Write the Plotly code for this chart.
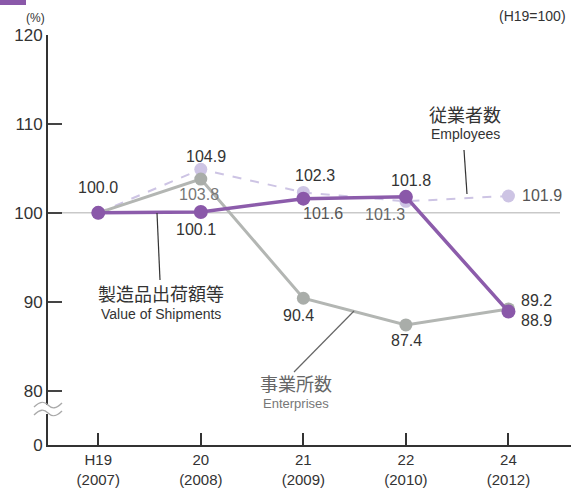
import plotly.graph_objects as go

W, H = 573, 490
L, R, T, B = 48, 2, 35, 45

categories = ["H19", "20", "21", "22", "24"]
years = ["2007", "2008", "2009", "2010", "2012"]

shipments = [100.0, 100.1, 101.6, 101.8, 88.9]
enterprises = [100.0, 103.8, 90.4, 87.4, 89.2]
employees = [100.0, 104.9, 102.3, 101.3, 101.9]

y_ticks = [0, 80, 90, 100, 110, 120]
BREAK_BASE = 73.9  # where "0" sits below the axis break

FONT = "Liberation Sans, Noto Sans CJK JP, sans-serif"
JP = "Noto Sans CJK JP, sans-serif"
PURPLE = "#8c5cab"
GRAY = "#b3b6b3"
LAVENDER = "#cdc4e4"


def px(x, y):
    """pixel position -> paper coords"""
    return (x - L) / (W - L - R), 1 - (y - T) / (H - T - B)


fig = go.Figure()

fig.add_trace(go.Scatter(
    x=categories, y=employees, mode="lines+markers",
    line=dict(color=LAVENDER, width=2, dash="dash"),
    marker=dict(color=LAVENDER, size=13),
))
fig.add_trace(go.Scatter(
    x=categories, y=enterprises, mode="lines+markers",
    line=dict(color=GRAY, width=3),
    marker=dict(color="#a9ada9", size=13),
))
fig.add_trace(go.Scatter(
    x=categories, y=shipments, mode="lines+markers",
    line=dict(color=PURPLE, width=3.5),
    marker=dict(color="#8a58a9", size=14),
))

# value labels: (series, index, dx, dy, anchor, colour)
labels = [
    (shipments, 0, 0, -25, "center", "#333"),
    (shipments, 1, -5, 18, "center", "#333"),
    (shipments, 2, 20, 15, "center", "#555"),
    (shipments, 3, 5, -16, "center", "#333"),
    (shipments, 4, 11, 9, "left", "#333"),
    (enterprises, 1, -2, 15, "center", "#777"),
    (enterprises, 2, -5, 17, "center", "#333"),
    (enterprises, 3, 1, 16, "center", "#333"),
    (enterprises, 4, 11, -8, "left", "#333"),
    (employees, 1, 5, -13, "center", "#333"),
    (employees, 2, 12, -17, "center", "#333"),
    (employees, 3, -21, 13, "center", "#666"),
    (employees, 4, 12, 0, "left", "#555"),
]
for series, i, dx, dy, anc, col in labels:
    # category index as x (names like "20" would be read as positions)
    fig.add_annotation(
        x=i, y=series[i], text=f"{series[i]:.1f}", showarrow=False,
        xanchor=anc, yanchor="middle", xshift=dx, yshift=-dy,
        font=dict(family=FONT, size=16, color=col),
    )

shapes = []
# 100 reference line
shapes.append(dict(type="line", xref="paper", yref="y", x0=0, x1=px(560, 0)[0],
                   y0=100, y1=100, line=dict(color="#c9c9c9", width=1.5), layer="below"))
# leader lines
for (x0, y0), (x1, y1), col in [
    ((464, 150), (467, 194), "#333"),
    ((157, 213), (160, 280), "#333"),
    ((354, 311), (294, 372), "#666"),
]:
    a, b = px(x0, y0), px(x1, y1)
    shapes.append(dict(type="line", xref="paper", yref="paper", x0=a[0], y0=a[1],
                       x1=b[0], y1=b[1], line=dict(color=col, width=1.2)))
# header bar fragment
a, b = px(0, 0), px(26, 5)
shapes.append(dict(type="rect", xref="paper", yref="paper", x0=a[0], y0=a[1], x1=b[0], y1=b[1],
                   fillcolor="#8a58a9", line=dict(width=0)))
# axis break: white gap plus two wavy strokes
a, b = px(44, 405), px(53, 414)
shapes.append(dict(type="rect", xref="paper", yref="paper", x0=a[0], y0=a[1], x1=b[0], y1=b[1],
                   fillcolor="white", line=dict(width=0)))
for off in (0, 8):
    pts = [px(x, y + off) for x, y in [(34, 407), (40, 401), (44, 401), (48, 405),
                                        (52, 409), (56, 409), (62, 403)]]
    path = "M {} {} C {} {} {} {} {} {} C {} {} {} {} {} {}".format(
        *[f"{v:.4f}" for p in pts for v in p])
    shapes.append(dict(type="path", xref="paper", yref="paper", path=path,
                       line=dict(color="#aaa", width=1.3)))
fig.update_layout(shapes=shapes)

texts = [
    (465, 114, "従業者数", JP, 18, "#333"),
    (465, 134, "Employees", FONT, 14, "#333"),
    (161, 293, "製造品出荷額等", JP, 18, "#333"),
    (161, 314, "Value of Shipments", FONT, 14, "#333"),
    (296, 383, "事業所数", JP, 18, "#666"),
    (296, 403, "Enterprises", FONT, 13, "#777"),
    (35, 18, "(%)", FONT, 12, "#333"),
    (532, 16, "(H19=100)", FONT, 14, "#333"),
]
for x, y, t, fam, size, col in texts:
    p = px(x, y)
    fig.add_annotation(x=p[0], y=p[1], xref="paper", yref="paper", text=t, showarrow=False,
                       xanchor="center", yanchor="middle",
                       font=dict(family=fam, size=size, color=col))

fig.update_xaxes(
    type="category", range=[-0.49, 4.61],
    tickvals=categories,
    ticktext=[f"{c}<br>({y})" for c, y in zip(categories, years)],
    ticks="inside", ticklen=12, tickwidth=2, tickcolor="#333",
    showline=True, linecolor="#333", linewidth=2,
    showgrid=False, zeroline=False,
    tickfont=dict(family=FONT, size=15, color="#333"),
)
fig.update_yaxes(
    range=[BREAK_BASE, 120],
    tickvals=[BREAK_BASE if v == 0 else v for v in y_ticks],
    ticktext=[str(v) for v in y_ticks],
    ticks="inside", ticklen=14, tickwidth=2, tickcolor="#444",
    showline=True, linecolor="#333", linewidth=2,
    showgrid=False, zeroline=False,
    tickfont=dict(family=FONT, size=17, color="#333"),
)
fig.update_layout(
    width=W, height=H, showlegend=False,
    margin=dict(l=L, r=R, t=T, b=B),
    plot_bgcolor="white", paper_bgcolor="white",
)

fig.write_html("out.html", config={"displayModeBar": False},
               post_script="document.body.style.margin='0';")
